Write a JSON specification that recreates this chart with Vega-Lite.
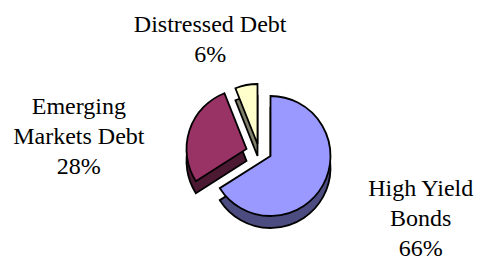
{
  "$schema": "https://vega.github.io/schema/vega-lite/v6.json",
  "width": 413,
  "height": 208,
  "autosize": {"type": "none"},
  "padding": {"left": 64, "top": 52, "right": 0, "bottom": 0},
  "background": "white",
  "view": {"stroke": null},
  "data": {
    "values": [
      {"category": "High Yield Bonds", "label": "High Yield\nBonds", "value": 66, "order": 1},
      {"category": "Emerging Markets Debt", "label": "Emerging\nMarkets Debt", "value": 28, "order": 2},
      {"category": "Distressed Debt", "label": "Distressed Debt", "value": 6, "order": 3}
    ]
  },
  "transform": [
    {"window": [{"op": "sum", "field": "value", "as": "end"}], "sort": [{"field": "order"}], "frame": [null, 0]},
    {"calculate": "datum.end - datum.value", "as": "start"},
    {"calculate": "(datum.start + datum.end) / 2", "as": "mid"},
    {"calculate": "datum.label + '\\n' + datum.value + '%'", "as": "text"}
  ],
  "encoding": {
    "theta": {"field": "start", "type": "quantitative", "scale": {"domain": [0, 100]}},
    "theta2": {"field": "end"}
  },
  "layer": [
    {
      "transform": [{"filter": "datum.category == 'High Yield Bonds'"}],
      "mark": {"type": "arc", "radius": 60, "yOffset": 12, "fill": "#4C4C80", "stroke": "black", "strokeWidth": 1.8}
    },
    {
      "transform": [{"filter": "datum.category == 'Emerging Markets Debt'"}],
      "mark": {"type": "arc", "radius": 60, "xOffset": -24, "yOffset": 5, "fill": "#4C1933", "stroke": "black", "strokeWidth": 1.8}
    },
    {
      "transform": [{"filter": "datum.category == 'Distressed Debt'"}],
      "mark": {"type": "arc", "radius": 60, "xOffset": -13, "yOffset": 0, "fill": "#80806A", "stroke": "black", "strokeWidth": 1.8}
    },
    {
      "transform": [{"filter": "datum.category == 'High Yield Bonds'"}],
      "mark": {"type": "arc", "radius": 60, "fill": "#9999FF", "stroke": "black", "strokeWidth": 1.8}
    },
    {
      "transform": [{"filter": "datum.category == 'Emerging Markets Debt'"}],
      "mark": {"type": "arc", "radius": 60, "xOffset": -24, "yOffset": -7, "fill": "#993366", "stroke": "black", "strokeWidth": 1.8}
    },
    {
      "transform": [{"filter": "datum.category == 'Distressed Debt'"}],
      "mark": {"type": "arc", "radius": 60, "xOffset": -13, "yOffset": -12, "fill": "#FFFFCC", "stroke": "black", "strokeWidth": 1.8}
    },
    {
      "transform": [{"filter": "datum.category == 'Distressed Debt'"}],
      "mark": {"type": "text", "radius": 114, "xOffset": -39, "yOffset": -19, "align": "center", "baseline": "middle", "lineBreak": "\n", "lineHeight": 30, "font": "Liberation Serif", "fontSize": 24, "color": "black"},
      "encoding": {"theta": {"field": "mid", "type": "quantitative", "scale": {"domain": [0, 100]}}, "theta2": null, "text": {"field": "text"}}
    },
    {
      "transform": [{"filter": "datum.category == 'Emerging Markets Debt'"}],
      "mark": {"type": "text", "radius": 150, "xOffset": -49, "yOffset": -3, "align": "center", "baseline": "middle", "lineBreak": "\n", "lineHeight": 30, "font": "Liberation Serif", "fontSize": 24, "color": "black"},
      "encoding": {"theta": {"field": "mid", "type": "quantitative", "scale": {"domain": [0, 100]}}, "theta2": null, "text": {"field": "text"}}
    },
    {
      "transform": [{"filter": "datum.category == 'High Yield Bonds'"}],
      "mark": {"type": "text", "radius": 168, "xOffset": 3, "yOffset": -48, "align": "center", "baseline": "middle", "lineBreak": "\n", "lineHeight": 30, "font": "Liberation Serif", "fontSize": 24, "color": "black"},
      "encoding": {"theta": {"field": "mid", "type": "quantitative", "scale": {"domain": [0, 100]}}, "theta2": null, "text": {"field": "text"}}
    }
  ]
}
